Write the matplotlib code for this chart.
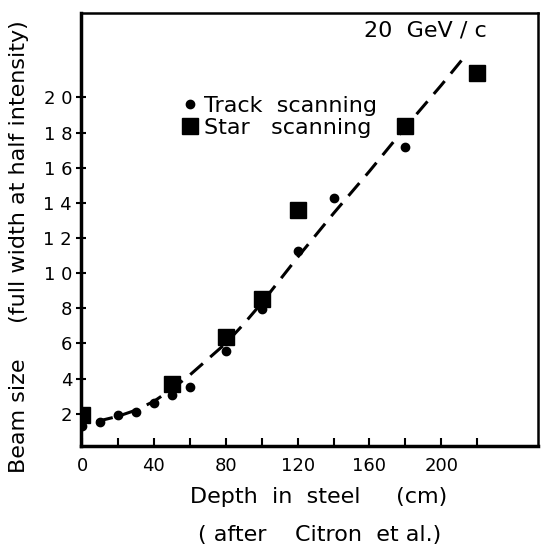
import numpy as np
import matplotlib
matplotlib.use("Agg")
import matplotlib.pyplot as plt

# Track scanning (dots)
track_depth = [0, 10, 20, 30, 40, 50, 60, 80, 100, 120, 140, 180]
track_size = [1.27, 1.55, 1.93, 2.08, 2.6, 3.07, 3.54, 5.59, 7.94, 11.25, 14.3, 17.2]

# Star scanning (squares)
star_depth = [0, 50, 80, 100, 120, 180, 220]
star_size = [1.9, 3.7, 6.35, 8.5, 13.6, 18.4, 21.4]

# dashed guide curve
curve_depth = [8, 20, 30, 40, 50, 60, 70, 80, 90, 100, 110, 120, 140, 160, 180, 200, 212]
curve_size = [1.55, 1.85, 2.2, 2.7, 3.4, 4.2, 5.1, 6.0, 7.1, 8.3, 9.6, 10.9, 13.4, 15.8, 18.3, 20.7, 22.2]

xtick_major = [0, 40, 80, 120, 160, 200]
xtick_minor = [20, 60, 100, 140, 180, 220]
ytick_vals = [2, 4, 6, 8, 10, 12, 14, 16, 18, 20]
ytick_labels = ["2", "4", "6", "8", "1 0", "1 2", "1 4", "1 6", "1 8", "2 0"]

plt.rcParams['font.family'] = ['DejaVu Sans']

fig = plt.figure(figsize=(5.41, 5.47), dpi=100)
ax = fig.add_axes([0.15, 0.185, 0.845, 0.791])

ax.plot(curve_depth, curve_size, color='black', lw=2.2, dashes=(5.5, 3.2))
ax.plot(track_depth, track_size, 'o', color='black', ms=6, label='Track  scanning')
ax.plot(star_depth, star_size, 's', color='black', ms=11, label='Star   scanning')

ax.set_xlim(-0.5, 254)
ax.set_ylim(0.17, 24.8)

ax.set_xticks(xtick_major)
ax.set_xticklabels([str(v) for v in xtick_major], fontsize=13)
ax.set_xticks(xtick_minor, minor=True)
ax.tick_params(axis='x', which='both', direction='in', length=6, width=1.5, pad=8)
ax.set_yticks(ytick_vals)
ax.set_yticklabels(ytick_labels, fontsize=13)
ax.tick_params(axis='y', direction='inout', length=7, width=1.5, pad=3)

for side in ['left', 'bottom']:
    ax.spines[side].set_linewidth(2.5)
for side in ['top', 'right']:
    ax.spines[side].set_linewidth(1.8)

ax.set_xlabel('Depth  in  steel     (cm)', fontsize=16)
ax.xaxis.set_label_coords(0.52, -0.095)
ax.set_ylabel('Beam size     (full width at half intensity)', fontsize=16)
ax.yaxis.set_label_coords(-0.115, 0.46)

fig.text(0.59, 0.022, '( after    Citron  et al.)', fontsize=16, ha='center', va='center')
ax.text(0.753, 0.961, '20  GeV / c', transform=ax.transAxes, fontsize=16,
        ha='center', va='center')

ax.legend(loc='upper left', bbox_to_anchor=(0.2, 0.835), frameon=False,
          fontsize=16, handlelength=0.6, handletextpad=0.3, labelspacing=0.1,
          borderpad=0)

fig.savefig('out.png', dpi=100)
